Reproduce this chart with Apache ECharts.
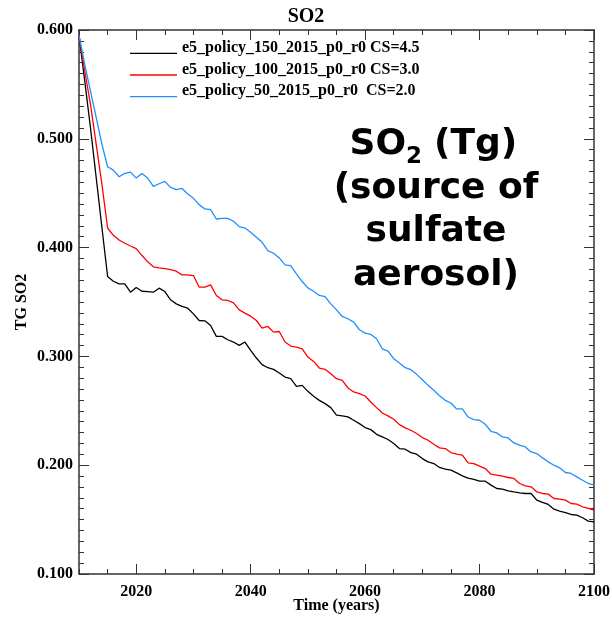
<!DOCTYPE html>
<html>
<head>
<meta charset="utf-8">
<script src="https://cdn.jsdelivr.net/npm/echarts@6/dist/echarts.min.js"></script>
<style>
  html, body { margin: 0; padding: 0; background: #fff; }
  #chart { width: 612px; height: 617px; }
</style>
</head>
<body>
<div id="chart"></div>
<script>
// Annual SO2 burden (Tg), 2010-2100, for three policy runs.
const firstYear = 2010;

const seriesNames = [
  'e5_policy_150_2015_p0_r0 CS=4.5',
  'e5_policy_100_2015_p0_r0 CS=3.0',
  'e5_policy_50_2015_p0_r0  CS=2.0'
];
const seriesColors = ['#000000', '#ff0000', '#1e8fff'];

const policy150 = [
  0.595, 0.5532, 0.5104, 0.4645, 0.4187, 0.3734, 0.3691, 0.3667, 0.3667, 0.3590,
  0.3633, 0.3599, 0.3596, 0.3590, 0.3627, 0.3596, 0.3520, 0.3483, 0.3459, 0.3443,
  0.3391, 0.3330, 0.3327, 0.3284, 0.3184, 0.3184, 0.3153, 0.3132, 0.3101, 0.3132,
  0.3055, 0.2985, 0.2924, 0.2896, 0.2881, 0.2847, 0.2810, 0.2795, 0.2725, 0.2734,
  0.2679, 0.2633, 0.2596, 0.2566, 0.2529, 0.2460, 0.2453, 0.2444, 0.2413, 0.2382,
  0.2346, 0.2327, 0.2284, 0.2260, 0.2236, 0.2199, 0.2153, 0.2147, 0.2116, 0.2101,
  0.2061, 0.2031, 0.2015, 0.1979, 0.1963, 0.1954, 0.1930, 0.1902, 0.1882, 0.1869,
  0.1853, 0.1853, 0.1817, 0.1786, 0.1780, 0.1765, 0.1755, 0.1746, 0.1740, 0.1740,
  0.1679, 0.1658, 0.1639, 0.1596, 0.1578, 0.1563, 0.1547, 0.1541, 0.1517, 0.1486,
  0.1480
];

const policy100 = [
  0.595, 0.5624, 0.5318, 0.4951, 0.4584, 0.4180, 0.4113, 0.4070, 0.4040, 0.4015,
  0.3991, 0.3927, 0.3869, 0.3823, 0.3813, 0.3807, 0.3798, 0.3783, 0.3749, 0.3749,
  0.3743, 0.3636, 0.3636, 0.3657, 0.3560, 0.3520, 0.3514, 0.3492, 0.3428, 0.3398,
  0.3370, 0.3330, 0.3260, 0.3275, 0.3223, 0.3229, 0.3132, 0.3095, 0.3086, 0.3070,
  0.2994, 0.2954, 0.2893, 0.2881, 0.2841, 0.2795, 0.2780, 0.2710, 0.2673, 0.2658,
  0.2636, 0.2581, 0.2529, 0.2480, 0.2453, 0.2422, 0.2373, 0.2343, 0.2321, 0.2291,
  0.2254, 0.2229, 0.2193, 0.2159, 0.2153, 0.2116, 0.2101, 0.2092, 0.2021, 0.2015,
  0.1991, 0.1969, 0.1917, 0.1908, 0.1899, 0.1887, 0.1878, 0.1832, 0.1810, 0.1801,
  0.1755, 0.1740, 0.1734, 0.1694, 0.1688, 0.1679, 0.1648, 0.1642, 0.1618, 0.1603,
  0.1587
];

const policy50 = [
  0.595, 0.5685, 0.5440, 0.5196, 0.4951, 0.4743, 0.4712, 0.4651, 0.4682, 0.4694,
  0.4639, 0.4682, 0.4639, 0.4563, 0.4587, 0.4609, 0.4554, 0.4532, 0.4544, 0.4492,
  0.4453, 0.4395, 0.4355, 0.4349, 0.4263, 0.4269, 0.4269, 0.4242, 0.4193, 0.4180,
  0.4141, 0.4095, 0.4049, 0.3972, 0.3948, 0.3905, 0.3841, 0.3835, 0.3758, 0.3688,
  0.3630, 0.3599, 0.3560, 0.3550, 0.3483, 0.3428, 0.3367, 0.3346, 0.3315, 0.3245,
  0.3214, 0.3202, 0.3162, 0.3070, 0.3049, 0.2979, 0.2939, 0.2896, 0.2878, 0.2835,
  0.2786, 0.2734, 0.2688, 0.2639, 0.2596, 0.2572, 0.2517, 0.2517, 0.2443, 0.2419,
  0.2413, 0.2376, 0.2312, 0.2297, 0.2260, 0.2251, 0.2205, 0.2184, 0.2168, 0.2122,
  0.2107, 0.2067, 0.2031, 0.2000, 0.1976, 0.1933, 0.1924, 0.1893, 0.1862, 0.1832,
  0.1817
];

const xMajorTicks = [2020, 2040, 2060, 2080, 2100];

const serif = '"Liberation Serif", "Times New Roman", serif';
const heavy = '"DejaVu Sans", sans-serif';
const axisColor = '#333';

function toPairs(values) {
  return values.map((v, i) => [firstYear + i, v]);
}

const chart = echarts.init(document.getElementById('chart'), null, { renderer: 'canvas' });

const baseX = {
  type: 'value', min: 2010, max: 2100, interval: 5,
  splitLine: { show: false },
  axisLine: { show: true, onZero: false, lineStyle: { color: axisColor, width: 1.5 } },
  axisTick: { show: true, inside: true, length: 5, lineStyle: { color: axisColor, width: 1 } },
  axisLabel: { show: false }
};
const majorX = {
  type: 'value', min: 2010, max: 2100, interval: 5,
  splitLine: { show: false },
  axisLine: { show: false, onZero: false },
  axisTick: { show: true, inside: true, length: 10, customValues: xMajorTicks, lineStyle: { color: axisColor, width: 1 } },
  axisLabel: { show: false }
};
const baseY = {
  type: 'value', min: 0.1, max: 0.6, interval: 0.1,
  splitLine: { show: false },
  axisLine: { show: true, onZero: false, lineStyle: { color: axisColor, width: 1.5 } },
  axisTick: { show: true, inside: true, length: 10, lineStyle: { color: axisColor, width: 1 } },
  minorTick: { show: true, splitNumber: 10, length: 5, lineStyle: { color: axisColor, width: 1 } },
  minorSplitLine: { show: false },
  axisLabel: { show: false }
};

const option = {
  backgroundColor: '#ffffff',
  animation: false,
  title: {
    text: 'SO2', left: 'center', top: 1.5,
    textStyle: { fontFamily: serif, fontWeight: 'bold', fontSize: 20, color: '#000' }
  },
  grid: { left: 79, right: 18, top: 30, bottom: 43, containLabel: false, outerBoundsMode: 'none' },
  legend: {
    orient: 'vertical', left: 130, top: 40, padding: 0,
    // short line sitting on the text baseline
    icon: 'path://M0,0M0,10.8L47,10.8L47,12.1L0,12.1Z',
    itemWidth: 47, itemHeight: 12.1, itemGap: 5.6,
    selectedMode: false,
    data: seriesNames,
    itemStyle: { borderWidth: 0 },
    textStyle: { fontFamily: serif, fontWeight: 'bold', fontSize: 16, color: '#000' }
  },
  xAxis: [
    Object.assign({}, baseX, {
      position: 'bottom',
      name: 'Time (years)', nameLocation: 'middle', nameGap: 24,
      nameMoveOverlap: false,
      nameTextStyle: { fontFamily: serif, fontWeight: 'bold', fontSize: 16, color: '#000' },
      axisLabel: {
        show: true, customValues: xMajorTicks, margin: 10,
        fontFamily: serif, fontWeight: 'bold', fontSize: 16, color: '#000',
        formatter: v => String(v)
      }
    }),
    Object.assign({}, baseX, { position: 'top' }),
    Object.assign({}, majorX, { position: 'bottom' }),
    Object.assign({}, majorX, { position: 'top' })
  ],
  yAxis: [
    Object.assign({}, baseY, {
      position: 'left',
      name: 'TG SO2', nameLocation: 'middle', nameGap: 49, nameRotate: 90,
      nameMoveOverlap: false,
      nameTextStyle: { fontFamily: serif, fontWeight: 'bold', fontSize: 16, color: '#000' },
      axisLabel: {
        show: true, margin: 6,
        fontFamily: serif, fontWeight: 'bold', fontSize: 16, color: '#000',
        formatter: v => v.toFixed(3)
      }
    }),
    Object.assign({}, baseY, { position: 'right' })
  ],
  series: [policy150, policy100, policy50].map((vals, k) => ({
    name: seriesNames[k],
    type: 'line',
    xAxisIndex: 0, yAxisIndex: 0,
    data: toPairs(vals),
    showSymbol: false, symbol: 'none',
    color: seriesColors[k],
    lineStyle: { color: seriesColors[k], width: 1.3 },
    emphasis: { disabled: true }
  })),
  graphic: [
    { type: 'text', x: 406, y: 144.5, style: { text: 'SO', font: 'bold 36px ' + heavy, fill: '#000', textAlign: 'right', textVerticalAlign: 'middle' } },
    { type: 'text', x: 406, y: 157, style: { text: '2', font: 'bold 23px ' + heavy, fill: '#000', textAlign: 'left', textVerticalAlign: 'middle' } },
    { type: 'text', x: 434, y: 144.5, style: { text: '(Tg)', font: 'bold 36px ' + heavy, fill: '#000', textAlign: 'left', textVerticalAlign: 'middle' } },
    { type: 'text', x: 436, y: 188.5, style: { text: '(source of', font: 'bold 36px ' + heavy, fill: '#000', textAlign: 'center', textVerticalAlign: 'middle' } },
    { type: 'text', x: 436, y: 231.5, style: { text: 'sulfate', font: 'bold 36px ' + heavy, fill: '#000', textAlign: 'center', textVerticalAlign: 'middle' } },
    { type: 'text', x: 436, y: 275.5, style: { text: 'aerosol)', font: 'bold 36px ' + heavy, fill: '#000', textAlign: 'center', textVerticalAlign: 'middle' } }
  ]
};

chart.setOption(option);
</script>
</body>
</html>
